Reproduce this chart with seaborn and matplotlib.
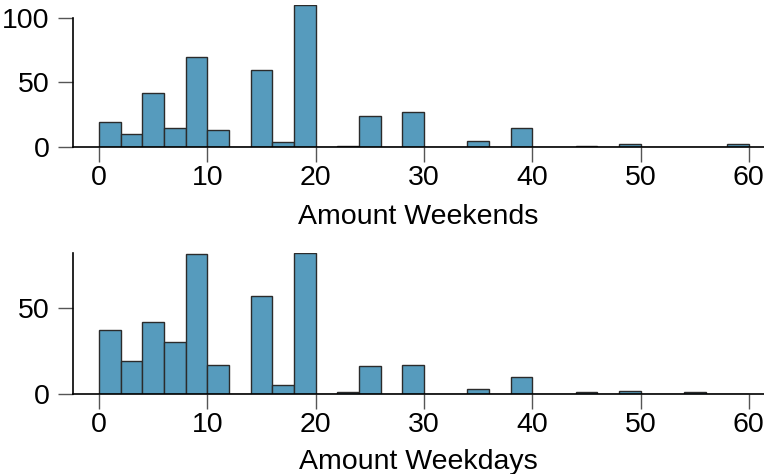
import numpy as np
import matplotlib
matplotlib.use("Agg")
from matplotlib import pyplot as plt
import seaborn as sns

# bin edges (width 2) and counts
edges = list(range(0, 62, 2))
weekend_counts = [19, 10, 42, 15, 70, 13, 0, 60, 4, 110,
                  0, 1, 24, 0, 27, 0, 0, 5, 0, 15,
                  0, 0, 1, 0, 2, 0, 0, 0, 0, 2]
weekday_counts = [37, 19, 42, 30, 81, 17, 0, 57, 5, 82,
                  0, 1, 16, 0, 17, 0, 0, 3, 0, 10,
                  0, 0, 1, 0, 2, 0, 0, 1, 0, 0]
x_ticks = [0, 10, 20, 30, 40, 50, 60]

centers = [e + 1 for e in edges[:-1]]

sns.set_style("ticks")
plt.rcParams['font.family'] = ['Liberation Sans', 'DejaVu Sans']
plt.rcParams['text.color'] = 'black'
plt.rcParams['xtick.labelcolor'] = 'black'
plt.rcParams['ytick.labelcolor'] = 'black'
plt.rcParams['axes.labelcolor'] = 'black'

fig = plt.figure(figsize=(7.64, 4.74), dpi=100)
ax1 = fig.add_axes([0.0955, 0.6899, 0.9045, 0.2996])
ax2 = fig.add_axes([0.0955, 0.1688, 0.9045, 0.2981])

panels = [
    (ax1, weekend_counts, "Amount Weekends", [0, 50, 100], 110, (0, 100), 9),
    (ax2, weekday_counts, "Amount Weekdays", [0, 50], 82, (0, 82), 8),
]

for ax, counts, label, yt, ytop, bounds, lpad in panels:
    sns.histplot(x=centers, weights=counts, bins=edges, ax=ax,
                 color="#569BBD", alpha=1, edgecolor="#2b2b2b", linewidth=1.0)
    ax.set_xlim(-2.4, 61.4)
    ax.set_ylim(0, ytop)
    ax.set_xticks(x_ticks)
    ax.set_yticks(yt)
    ax.set_ylabel("")
    ax.set_xlabel(label, fontsize=20.5, labelpad=lpad, color='black')
    ax.tick_params(axis='both', labelsize=20.5, length=11, width=1.0,
                   color="#555555", labelcolor='black', direction='out')
    ax.tick_params(axis='x', pad=2)
    ax.tick_params(axis='y', pad=6)
    for s in ['top', 'right']:
        ax.spines[s].set_visible(False)
    ax.spines['left'].set_bounds(*bounds)
    ax.spines['left'].set_linewidth(1.2)
    ax.spines['bottom'].set_linewidth(1.2)
    ax.spines['left'].set_color('black')
    ax.spines['bottom'].set_color('black')

fig.savefig("out.png", dpi=100)
